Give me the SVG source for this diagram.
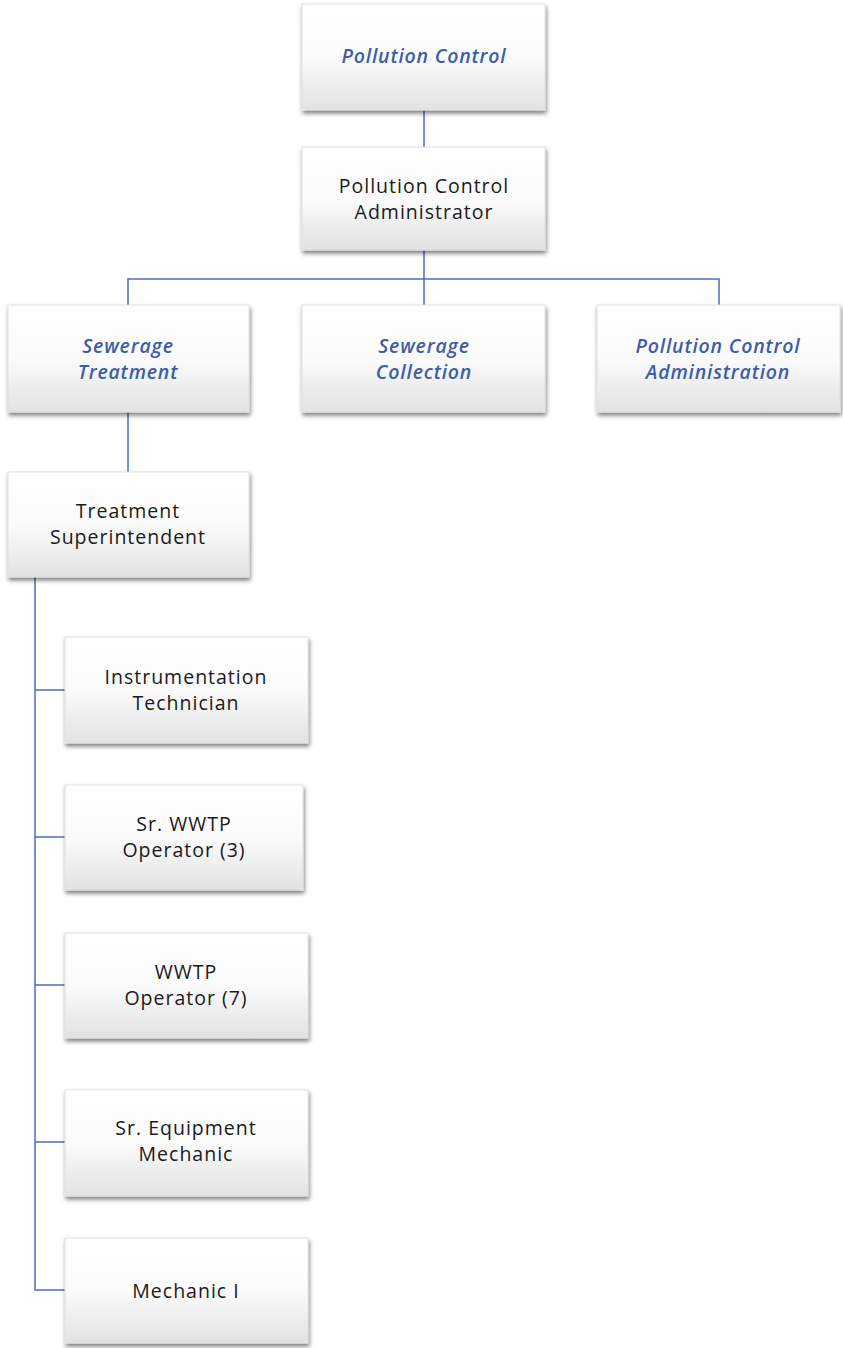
<svg xmlns="http://www.w3.org/2000/svg" width="843" height="1348" viewBox="0 0 843 1348">
<defs>
<linearGradient id="g" x1="0" y1="0" x2="0" y2="1">
<stop offset="0" stop-color="#ffffff"/>
<stop offset="0.5" stop-color="#fbfbfb"/>
<stop offset="1" stop-color="#e2e2e2"/>
</linearGradient>
<filter id="sh" x="-10%" y="-10%" width="125%" height="130%">
<feDropShadow dx="1" dy="3" stdDeviation="2" flood-color="#000" flood-opacity="0.5"/>
</filter>
</defs>
<style>
.box{fill:url(#g);stroke:#e0e0e0;stroke-width:1;filter:url(#sh)}
.t{font-family:"Open Sans","Noto Sans",sans-serif;font-size:19.5px;letter-spacing:1px;fill:#1a1a1a;text-anchor:middle}
.u{font-family:"Open Sans","Noto Sans",sans-serif;font-size:19.5px;letter-spacing:0.8px;fill:#3c5ea8;text-anchor:middle;font-style:italic;font-weight:600}
.c{fill:none;stroke:#4a6fbf;stroke-width:1.5}
</style>
<rect width="843" height="1348" fill="#ffffff"/>
<g id="connectors">
<path class="c" d="M424 110V147"/>
<path class="c" d="M424 250V305"/>
<path class="c" d="M128 305V279H719V305"/>
<path class="c" d="M128 412V472"/>
<path class="c" d="M35 577V1290H65"/>
<path class="c" d="M35 690H65M35 837H65M35 985H65M35 1142H65"/>
</g>
<g id="n-pollution-control">
<rect class="box" x="302" y="4" width="243" height="106"/>
<text class="u" x="424" y="63">Pollution Control</text>
</g>
<g id="n-administrator">
<rect class="box" x="302" y="147" width="243" height="103"/>
<text class="t" x="424" y="193">Pollution Control</text>
<text class="t" x="424" y="219">Administrator</text>
</g>
<g id="n-sewerage-treatment">
<rect class="box" x="8" y="305" width="241" height="107"/>
<text class="u" x="128" y="353">Sewerage</text>
<text class="u" x="128" y="379">Treatment</text>
</g>
<g id="n-sewerage-collection">
<rect class="box" x="302" y="305" width="243" height="107"/>
<text class="u" x="424" y="353">Sewerage</text>
<text class="u" x="424" y="379">Collection</text>
</g>
<g id="n-pc-administration">
<rect class="box" x="597" y="305" width="243" height="107"/>
<text class="u" x="718" y="353">Pollution Control</text>
<text class="u" x="718" y="379">Administration</text>
</g>
<g id="n-treatment-superintendent">
<rect class="box" x="8" y="472" width="241" height="105"/>
<text class="t" x="128" y="518">Treatment</text>
<text class="t" x="128" y="544">Superintendent</text>
</g>
<g id="n-instrumentation">
<rect class="box" x="65" y="637" width="243" height="106"/>
<text class="t" x="186" y="684">Instrumentation</text>
<text class="t" x="186" y="710">Technician</text>
</g>
<g id="n-sr-wwtp">
<rect class="box" x="65" y="785" width="238" height="105"/>
<text class="t" x="184" y="831">Sr. WWTP</text>
<text class="t" x="184" y="857">Operator (3)</text>
</g>
<g id="n-wwtp">
<rect class="box" x="65" y="933" width="243" height="105"/>
<text class="t" x="186" y="979">WWTP</text>
<text class="t" x="186" y="1005">Operator (7)</text>
</g>
<g id="n-sr-equipment">
<rect class="box" x="65" y="1090" width="243" height="106"/>
<text class="t" x="186" y="1135">Sr. Equipment</text>
<text class="t" x="186" y="1161">Mechanic</text>
</g>
<g id="n-mechanic">
<rect class="box" x="65" y="1238" width="243" height="105"/>
<text class="t" x="186" y="1298">Mechanic I</text>
</g>
</svg>
